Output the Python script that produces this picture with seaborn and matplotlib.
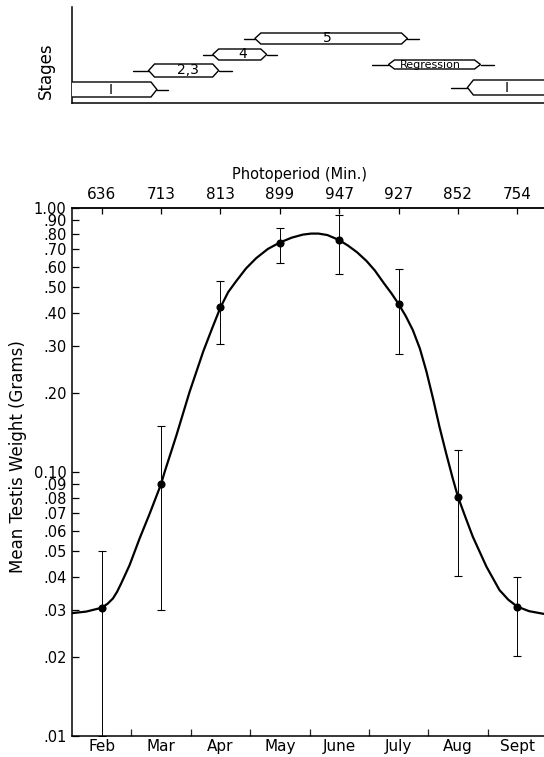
import numpy as np
import pandas as pd
import matplotlib
matplotlib.use("Agg")
import matplotlib.pyplot as plt
import seaborn as sns
from matplotlib.patches import Polygon
from matplotlib.ticker import NullLocator

# ---------------- data ----------------
months = ["Feb", "Mar", "Apr", "May", "June", "July", "Aug", "Sept"]
photoperiod = ["636", "713", "813", "899", "947", "927", "852", "754"]
mean_weight = [0.0306, 0.090, 0.42, 0.74, 0.756, 0.433, 0.0806, 0.0309]
err_low = [0.010, 0.030, 0.305, 0.619, 0.562, 0.281, 0.0405, 0.0201]
err_high = [0.050, 0.149, 0.529, 0.838, 0.94, 0.586, 0.121, 0.0401]

# fitted curve (month index, grams)
curve_x = [-0.5, -0.26, 0.0, 0.1, 0.19, 0.26, 0.33, 0.47, 0.64, 0.81, 1.0,
           1.06, 1.26, 1.48, 1.71, 1.86, 2.0, 2.13, 2.27, 2.43, 2.6, 2.8,
           3.0, 3.2, 3.39, 3.53, 3.65, 3.8, 4.0, 4.15, 4.3, 4.46, 4.6, 4.75,
           4.88, 5.0, 5.12, 5.24, 5.36, 5.47, 5.58, 5.69, 5.8, 5.91, 6.0,
           6.12, 6.25, 6.48, 6.7, 6.85, 7.0, 7.2, 7.45]
curve_y = [0.0292, 0.0296, 0.0306, 0.0317, 0.0332, 0.0352, 0.0379, 0.0444,
           0.0561, 0.0697, 0.090, 0.100, 0.138, 0.201, 0.286, 0.35, 0.42,
           0.48, 0.53, 0.59, 0.645, 0.70, 0.74, 0.772, 0.793, 0.80, 0.80,
           0.79, 0.756, 0.72, 0.68, 0.63, 0.58, 0.52, 0.475, 0.433, 0.39,
           0.345, 0.293, 0.24, 0.19, 0.148, 0.118, 0.095, 0.0806, 0.068,
           0.0569, 0.0438, 0.0357, 0.0328, 0.0309, 0.0297, 0.0290]

ytick_values = [1.0, .9, .8, .7, .6, .5, .4, .3, .2, .1, .09, .08, .07, .06,
                .05, .04, .03, .02, .01]
ytick_labels = ["1.00", ".90", ".80", ".70", ".60", ".50", ".40", ".30", ".20",
                "0.10", ".09", ".08", ".07", ".06", ".05", ".04", ".03", ".02",
                ".01"]

# stages panel (month index positions)
stage_labels = ["I", "2,3", "4", "5", "Regression", "I"]
stage_start = [-0.8, 0.79, 1.87, 2.58, 4.83, 6.16]
stage_end = [0.93, 1.97, 2.78, 5.15, 6.38, 7.9]
whisker_lo = [None, 0.52, 1.70, 2.39, 4.55, 5.88]
whisker_hi = [1.11, 2.19, 2.96, 5.35, 6.60, None]
stage_level = [13.5, 32.5, 48.5, 64.5, 38.5, 15.5]
label_x = [0.15, 1.45, 2.37, 3.80, 5.54, 6.82]

# ---------------- style ----------------
sns.set_theme(style="ticks")
plt.rcParams["font.family"] = ["DejaVu Sans"]
plt.rcParams["axes.linewidth"] = 1.1

W, H = 544, 757
fig = plt.figure(figsize=(W / 100, H / 100), dpi=100)
fig.patch.set_facecolor("white")

ax = fig.add_axes([72 / W, 1 - 736 / H, 475 / W, (736 - 208) / H])
axs = fig.add_axes([72 / W, 1 - 103 / H, 475 / W, 96 / H])

# ---------------- main chart ----------------
pos = list(range(len(months)))
curve_df = pd.DataFrame({"x": curve_x, "y": curve_y})
sns.lineplot(data=curve_df, x="x", y="y", ax=ax, color="black", lw=1.6,
             sort=False, zorder=3)
yerr = [np.array(mean_weight) - np.array(err_low),
        np.array(err_high) - np.array(mean_weight)]
ax.errorbar(pos, mean_weight, yerr=yerr, fmt="none", ecolor="black",
            elinewidth=0.7, capsize=3.2, capthick=0.8, zorder=2)
pts = pd.DataFrame({"x": pos, "y": mean_weight})
sns.scatterplot(data=pts, x="x", y="y", ax=ax, color="black", s=34,
                edgecolor="black", linewidth=0, zorder=5)

ax.set_yscale("log")
ax.set_ylim(0.01, 1.0)
ax.set_xlim(-0.5, 7.5)
ax.set_yticks(ytick_values, ytick_labels)
ax.yaxis.set_minor_locator(NullLocator())
ax.tick_params(axis="y", direction="in", length=5, width=0.9, labelsize=10.5,
               pad=4, colors="black")

ax.set_xticks([p + 0.5 for p in pos[:-1]], [""] * (len(pos) - 1))
ax.set_xticks(pos, months, minor=True)
ax.tick_params(axis="x", which="major", direction="in", length=5, width=0.9)
ax.tick_params(axis="x", which="minor", length=0, labelsize=11, pad=2,
               colors="black")

ax.set_xlabel("")
ax.set_ylabel("Mean Testis Weight (Grams)", fontsize=12, color="black")
ax.yaxis.set_label_coords(-0.095, 0.53)
for s in ax.spines.values():
    s.set_color("black")
    s.set_linewidth(1.1)

sec = ax.secondary_xaxis("top")
sec.set_xticks(pos, photoperiod)
sec.xaxis.set_minor_locator(NullLocator())
sec.tick_params(direction="in", length=4, width=0.9, labelsize=11, pad=4,
                colors="black")
sec.spines["top"].set_linewidth(1.1)
fig.text(300 / W, 1 - 175 / H, "Photoperiod (Min.)", ha="center",
         va="center", fontsize=10.5, color="black")

# ---------------- stages panel ----------------
axs.set_xlim(-0.5, 7.5)
axs.set_ylim(0, 96)
axs.set_xticks([])
axs.set_yticks([])
axs.spines["top"].set_visible(False)
axs.spines["right"].set_visible(False)
axs.spines["left"].set_color("black")
axs.spines["bottom"].set_color("black")
axs.set_ylabel("Stages", fontsize=12, color="black")
axs.yaxis.set_label_coords(-0.036, 0.34)

half_h = [7.5, 6.5, 5.5, 5.5, 4.5, 7.5]
d = 0.1
for i, lab in enumerate(stage_labels):
    tl, tr, yc, h = stage_start[i], stage_end[i], stage_level[i], half_h[i]
    verts = [(tl, yc), (tl + d, yc + h), (tr - d, yc + h), (tr, yc),
             (tr - d, yc - h), (tl + d, yc - h)]
    axs.add_patch(Polygon(verts, closed=True, facecolor="white",
                          edgecolor="black", lw=1.0, zorder=3))
    if whisker_lo[i] is not None:
        axs.plot([whisker_lo[i], tl], [yc, yc], color="black", lw=1.0, zorder=2)
    if whisker_hi[i] is not None:
        axs.plot([tr, whisker_hi[i]], [yc, yc], color="black", lw=1.0, zorder=2)
    fs = 8 if lab == "Regression" else 10
    axs.text(label_x[i], yc, lab, ha="center", va="center", fontsize=fs,
             color="black", zorder=4)

fig.savefig("out.png", dpi=100, facecolor="white")
